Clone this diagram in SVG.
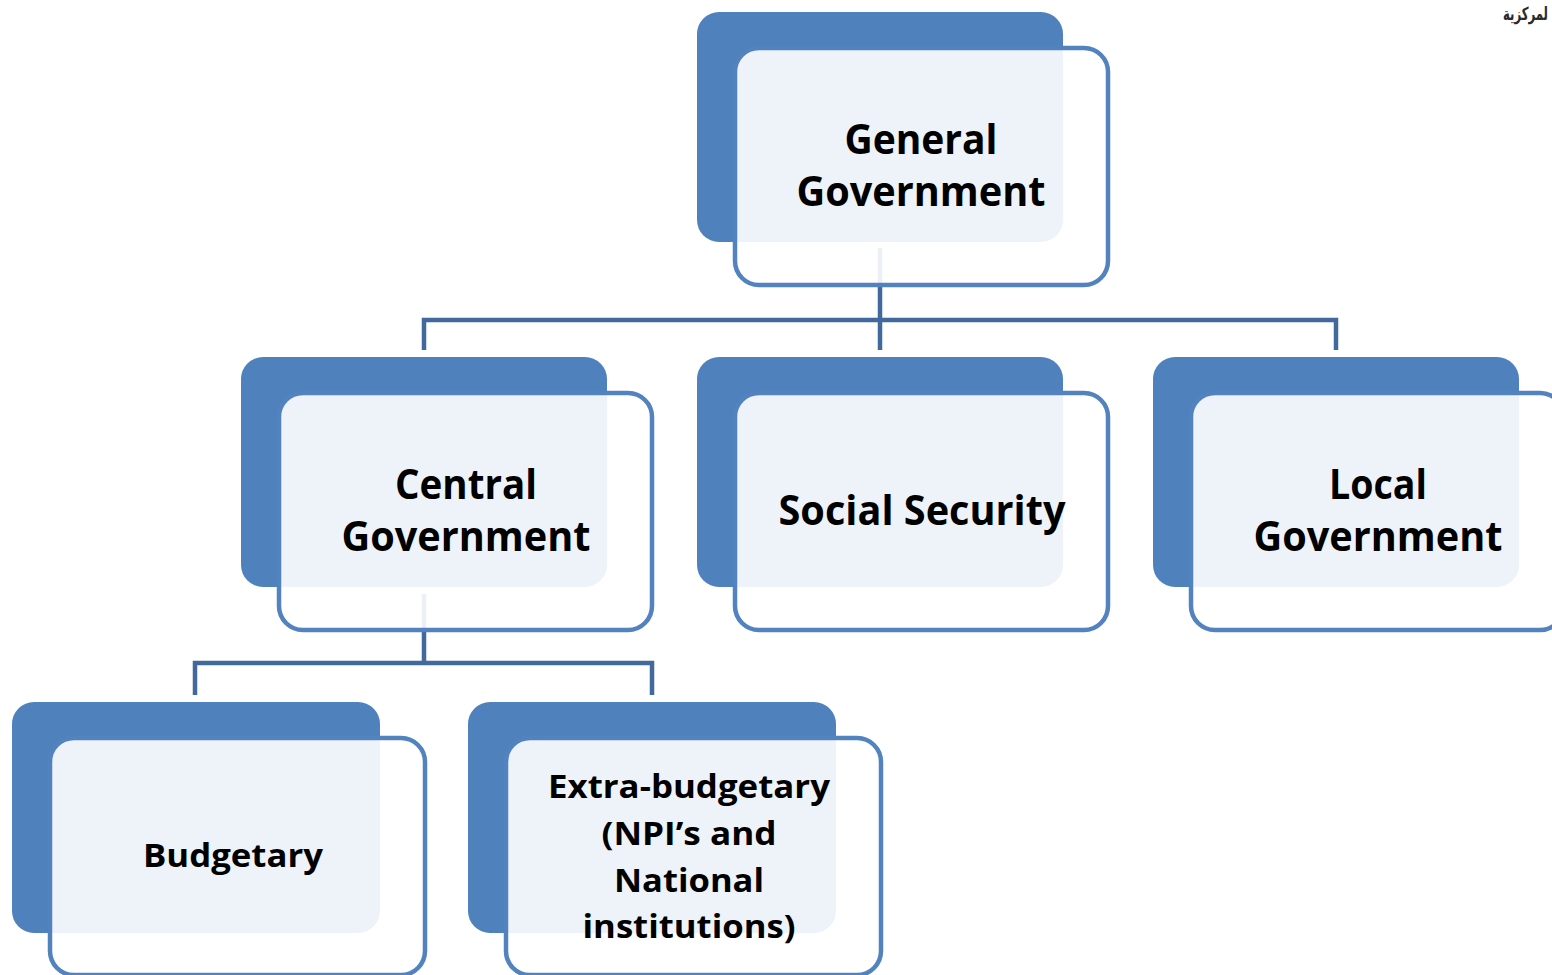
<svg xmlns="http://www.w3.org/2000/svg" width="1552" height="975" viewBox="0 0 1552 975">
<style>
.back{fill:#4F81BD}
.front{fill:#FFFFFF;fill-opacity:0.9;stroke:#5383BE;stroke-width:4.5}
.conn{fill:none;stroke:#41699B;stroke-width:4.5;stroke-linejoin:miter}
.t{font-family:"Open Sans","Liberation Sans",sans-serif;font-weight:bold;fill:#000;text-anchor:middle}
.big{font-size:42px}
.small{font-size:33px}
</style>
<rect width="1552" height="975" fill="#FFFFFF"/>
<text x="1548" y="20" text-anchor="end" font-family="'DejaVu Sans',sans-serif" font-weight="bold" font-size="18" fill="#2a2a2a" textLength="45" lengthAdjust="spacingAndGlyphs">لمركزية</text>
<g id="connectors">
<path class="conn" d="M880,248 V320 M424,350 V320 H1336 V350 M880,320 V350"/>
<path class="conn" d="M424,594 V663 M195,695 V663 H652 V695"/>
</g>
<g id="general-government">
<rect class="back" x="697" y="12" width="366" height="230" rx="22"/>
<rect class="front" x="735" y="48" width="373" height="237" rx="24"/>
<text class="t big" x="921" y="154" textLength="153" lengthAdjust="spacingAndGlyphs">General</text>
<text class="t big" x="921" y="206" textLength="249" lengthAdjust="spacingAndGlyphs">Government</text>
</g>
<g id="central-government">
<rect class="back" x="241" y="357" width="366" height="230" rx="22"/>
<rect class="front" x="279" y="393" width="373" height="237" rx="24"/>
<text class="t big" x="466" y="499" textLength="142" lengthAdjust="spacingAndGlyphs">Central</text>
<text class="t big" x="466" y="551" textLength="249" lengthAdjust="spacingAndGlyphs">Government</text>
</g>
<g id="social-security">
<rect class="back" x="697" y="357" width="366" height="230" rx="22"/>
<rect class="front" x="735" y="393" width="373" height="237" rx="24"/>
<text class="t big" x="922" y="525" textLength="287" lengthAdjust="spacingAndGlyphs">Social Security</text>
</g>
<g id="local-government">
<rect class="back" x="1153" y="357" width="366" height="230" rx="22"/>
<rect class="front" x="1191" y="393" width="373" height="237" rx="24"/>
<text class="t big" x="1378" y="499" textLength="98" lengthAdjust="spacingAndGlyphs">Local</text>
<text class="t big" x="1378" y="551" textLength="249" lengthAdjust="spacingAndGlyphs">Government</text>
</g>
<g id="budgetary">
<rect class="back" x="12" y="702" width="368" height="231" rx="22"/>
<rect class="front" x="50" y="738" width="375" height="237" rx="24"/>
<text class="t small" x="233" y="867" textLength="180" lengthAdjust="spacingAndGlyphs">Budgetary</text>
</g>
<g id="extra-budgetary">
<rect class="back" x="468" y="702" width="368" height="231" rx="22"/>
<rect class="front" x="506" y="738" width="375" height="237" rx="24"/>
<text class="t small" x="689" y="798" textLength="282" lengthAdjust="spacingAndGlyphs">Extra-budgetary</text>
<text class="t small" x="689" y="845" textLength="175" lengthAdjust="spacingAndGlyphs">(NPI’s and</text>
<text class="t small" x="689" y="892" textLength="150" lengthAdjust="spacingAndGlyphs">National</text>
<text class="t small" x="689" y="938" textLength="213" lengthAdjust="spacingAndGlyphs">institutions)</text>
</g>
</svg>
